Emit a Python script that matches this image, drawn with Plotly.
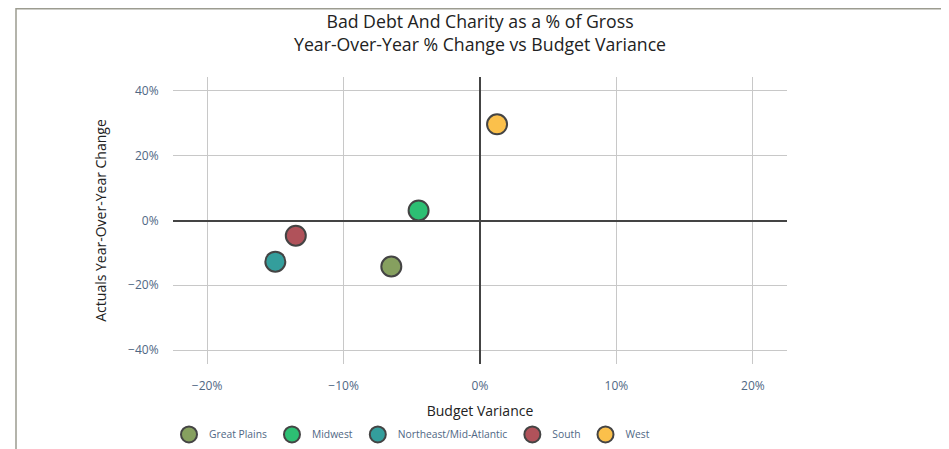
import plotly.graph_objects as go

regions = ["Great Plains", "Midwest", "Northeast/Mid-Atlantic", "South", "West"]
budget_variance = [-0.065, -0.045, -0.150, -0.135, 0.0125]
yoy_change = [-0.142, 0.031, -0.127, -0.047, 0.297]
colors = ["#86a05f", "#2dbf73", "#349e9c", "#b0525a", "#fbc04b"]

x_ticks = [-0.2, -0.1, 0.0, 0.1, 0.2]
y_ticks = [-0.4, -0.2, 0.0, 0.2, 0.4]

title_text = "Bad Debt And Charity as a % of Gross<br>Year-Over-Year % Change vs Budget Variance"

fig = go.Figure()
for name, xv, yv, c in zip(regions, budget_variance, yoy_change, colors):
    fig.add_trace(go.Scatter(
        x=[xv], y=[yv], mode="markers", name=name,
        marker=dict(size=20, color=c, line=dict(color="#444444", width=2)),
    ))

W, H = 941, 441
L, R, T, B = 165, 162, 69, 85
pw, ph = W - L - R, H - T - B

fig.add_shape(
    type="rect", xref="paper", yref="paper",
    x0=(8 - L) / pw, x1=(935 - L) / pw,
    y0=-(470 - (H - B)) / ph, y1=((H - B) - 0.75) / ph,
    line=dict(color="#9c9c90", width=1.5), fillcolor="rgba(0,0,0,0)", layer="below",
)

fig.add_annotation(text=title_text, xref="paper", yref="paper", x=0.5, xanchor="center",
                   y=(H - B - 25) / ph, yanchor="middle", showarrow=False,
                   font=dict(size=17.7, color="#222222"))

fig.update_layout(
    width=W, height=H,
    margin=dict(l=L, r=R, t=T, b=B, autoexpand=False),
    paper_bgcolor="white", plot_bgcolor="white",
    font=dict(family="Open Sans", color="#444444"),
    xaxis=dict(
        range=[-0.225, 0.225], tickvals=x_ticks, tickformat=".0%",
        showgrid=True, gridcolor="#c8c8c8", gridwidth=1,
        zeroline=True, zerolinecolor="#444444", zerolinewidth=2,
        showline=False, ticks="outside", ticklen=11, tickcolor="rgba(0,0,0,0)",
        tickfont=dict(size=12, color="#506784"),
        title=dict(text="Budget Variance", font=dict(size=14, color="#222222"), standoff=12),
    ),
    yaxis=dict(
        range=[-0.443, 0.443], tickvals=y_ticks, tickformat=".0%",
        showgrid=True, gridcolor="#c8c8c8", gridwidth=1,
        zeroline=True, zerolinecolor="#444444", zerolinewidth=2,
        showline=False, ticks="outside", ticklen=11, tickcolor="rgba(0,0,0,0)",
        tickfont=dict(size=12, color="#506784"),
        title=dict(text="Actuals Year-Over-Year Change", font=dict(size=14, color="#222222"), standoff=18),
    ),
    legend=dict(
        orientation="h", x=-4 / pw, xanchor="left", y=-0.195, yanchor="top",
        font=dict(size=10.3, color="#506784"),
    ),
    showlegend=True,
)

fig.write_html("out.html")
